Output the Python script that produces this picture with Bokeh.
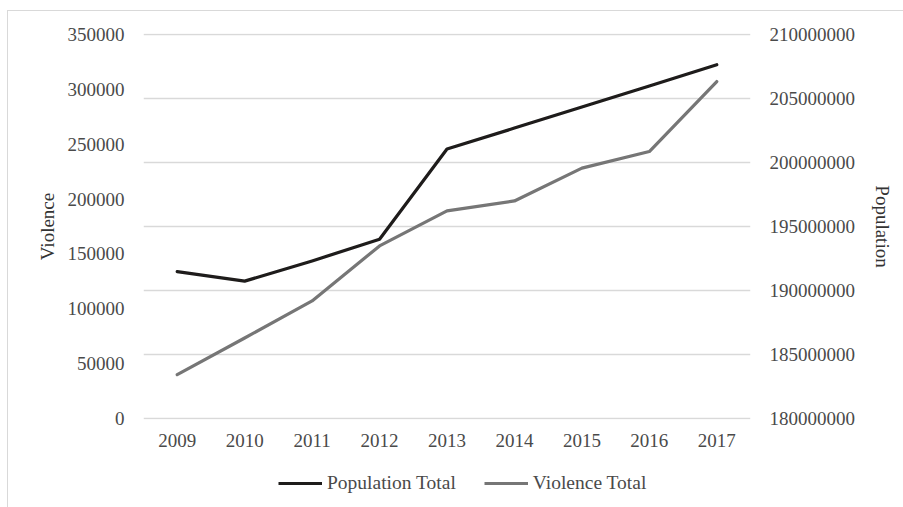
from bokeh.plotting import figure
from bokeh.layouts import column
from bokeh.models import (Range1d, FactorRange, LinearAxis, FixedTicker,
                          PrintfTickFormatter, Grid, Legend, LegendItem,
                          ColumnDataSource)
from bokeh.embed import file_html
from bokeh.resources import INLINE

# Yearly totals
years = ["2009", "2010", "2011", "2012", "2013", "2014", "2015", "2016", "2017"]
population_total = [191480000, 190730000, 192310000, 194000000, 201050000,
                    202690000, 204330000, 205980000, 207640000]
violence_total = [40000, 73400, 107200, 157300, 189200, 198300, 228200,
                  243300, 307100]

# Axis ticks
violence_ticks = [0, 50000, 100000, 150000, 200000, 250000, 300000, 350000]
population_ticks = [180000000, 185000000, 190000000, 195000000, 200000000,
                    205000000, 210000000]

FONT = "Liberation Serif"
TEXT = "#4a4a4a"
GRID = "#d9d9d9"
POP_COLOR = "#1e1c1b"
VIO_COLOR = "#767676"

# a hair of padding so the outermost gridlines are not clipped by the frame
PAD = 1.0 / 384
v_span = violence_ticks[-1] - violence_ticks[0]
p_span = population_ticks[-1] - population_ticks[0]

source = ColumnDataSource(dict(year=years, population=population_total,
                               violence=violence_total))

p = figure(x_range=FactorRange(*years, range_padding=0),
           y_range=Range1d(violence_ticks[0] - v_span * PAD,
                           violence_ticks[-1] + v_span * PAD),
           width=895, height=456,
           min_border_left=135, min_border_right=153,
           min_border_top=22, min_border_bottom=48,
           output_backend="svg", toolbar_location=None)
p.outline_line_color = None
p.background_fill_color = "white"
p.border_fill_color = "white"

p.extra_y_ranges = {"pop": Range1d(population_ticks[0] - p_span * PAD,
                                   population_ticks[-1] + p_span * PAD)}

# Grid follows the population (secondary) axis
p.xgrid.visible = False
p.ygrid.visible = False
pop_grid = Grid(dimension=1, ticker=FixedTicker(ticks=population_ticks),
                y_range_name="pop", grid_line_color=GRID, grid_line_width=1.5)
p.add_layout(pop_grid)

def style_axis(ax):
    ax.axis_line_color = None
    ax.major_tick_line_color = None
    ax.minor_tick_line_color = None
    ax.major_label_text_font = FONT
    ax.major_label_text_font_size = "19px"
    ax.major_label_text_color = TEXT
    ax.axis_label_text_font = FONT
    ax.axis_label_text_font_size = "19px"
    ax.axis_label_text_font_style = "normal"
    ax.axis_label_text_color = "#333333"

# Left axis: violence
yl = p.yaxis[0]
yl.ticker = FixedTicker(ticks=violence_ticks)
yl.formatter = PrintfTickFormatter(format="%d")
yl.axis_label = "Violence"
style_axis(yl)
yl.major_label_standoff = 13
yl.axis_label_standoff = 7

# Right axis: population
yr = LinearAxis(y_range_name="pop", ticker=FixedTicker(ticks=population_ticks),
                formatter=PrintfTickFormatter(format="%d"),
                axis_label="Population")
style_axis(yr)
yr.major_label_standoff = 13
yr.axis_label_standoff = 14
p.add_layout(yr, "right")

# Bottom axis: years
xa = p.xaxis[0]
style_axis(xa)
xa.major_label_standoff = 8

p.line("year", "population", source=source, y_range_name="pop",
       line_color=POP_COLOR, line_width=3.2, line_join="round", line_cap="round")
p.line("year", "violence", source=source,
       line_color=VIO_COLOR, line_width=3.2, line_join="round", line_cap="round")

# Legend strip underneath the chart (its frame lines up with the chart's)
lg = figure(width=895, height=40, x_range=(0, 1), y_range=(0, 1),
            min_border=0, output_backend="svg", toolbar_location=None)
lg.outline_line_color = None
lg.axis.visible = False
lg.grid.visible = False
lg.border_fill_color = "white"
key_src = ColumnDataSource(dict(x=[float("nan")], y=[float("nan")]))
pop_key = lg.line("x", "y", source=key_src, line_color=POP_COLOR, line_width=3.2)
vio_key = lg.line("x", "y", source=key_src, line_color=VIO_COLOR, line_width=3.2)

legend = Legend(items=[LegendItem(label="Population Total", renderers=[pop_key]),
                       LegendItem(label="Violence Total", renderers=[vio_key])],
                orientation="horizontal", location=(135, 13),
                label_text_font=FONT, label_text_font_size="19.5px",
                label_text_color=TEXT, glyph_width=44, glyph_height=20,
                label_standoff=5, spacing=28, padding=0, margin=0,
                border_line_color=None, background_fill_alpha=0)
lg.add_layout(legend)

layout = column(p, lg, spacing=0)
layout.margin = (10, 0, 0, 7)
layout.styles = {"border-left": "1px solid #d9d9d9",
                 "border-top": "1px solid #d9d9d9"}

open("out.html", "w").write(file_html(layout, INLINE))
